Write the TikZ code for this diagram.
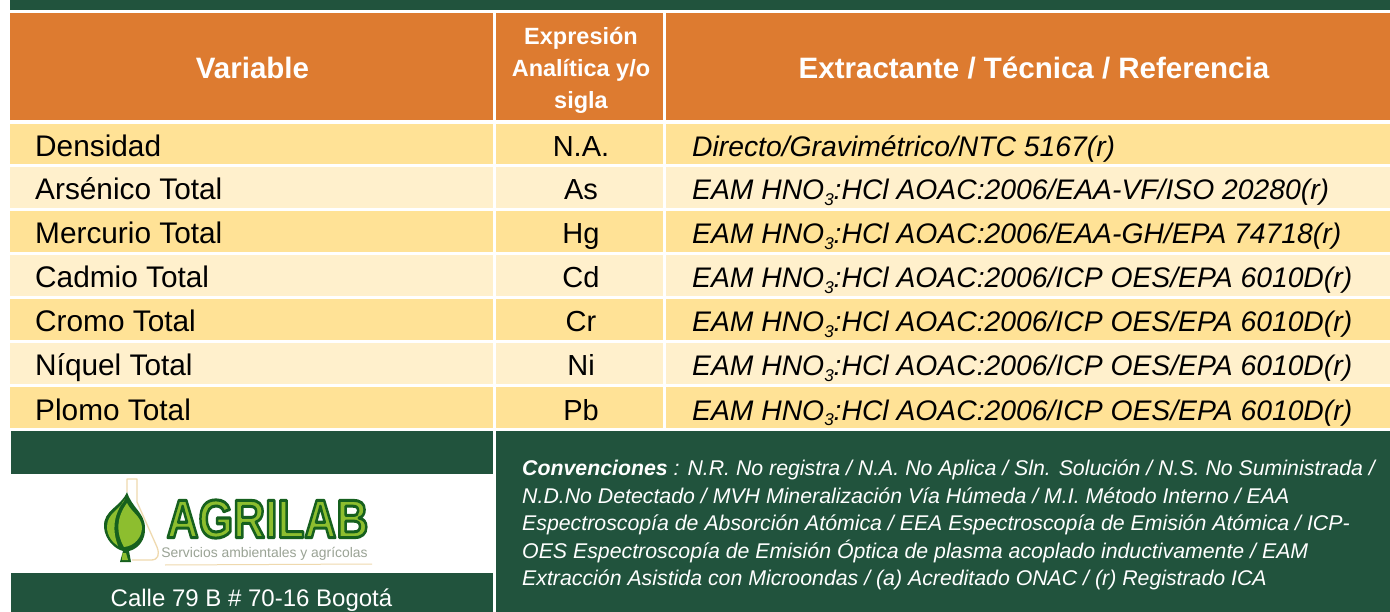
\documentclass[tikz,border=0pt]{standalone}
\usepackage{fontspec}
\setmainfont{Liberation Sans}
\definecolor{dkgreen}{HTML}{21533D}
\definecolor{hdr}{HTML}{DD7B30}
\definecolor{rowa}{HTML}{FFE296}
\definecolor{rowb}{HTML}{FFF0CC}
\definecolor{leaf}{HTML}{8DBE2F}
\definecolor{leafdk}{HTML}{16601E}
\definecolor{flask}{HTML}{EFD9AE}
\definecolor{logotxt}{HTML}{9AA395}
\newcommand{\subthree}{\raisebox{-0.2em}{\fontsize{17}{17}\selectfont 3}}
\newcommand{\eam}[1]{EAM HNO\subthree:HCl AOAC:2006/#1}
\newcommand{\outl}{\special{pdf:code q 2 Tr 1 j 3 w 0.086 0.376 0.118 RG}}
\newcommand{\outlend}{\special{pdf:code Q}}
\tikzset{
  vartxt/.style={font=\fontsize{29.8}{29.8}\selectfont,text=black,anchor=base west,inner sep=0pt},
  symtxt/.style={font=\fontsize{29}{29}\selectfont,text=black,anchor=base,inner sep=0pt},
  exttxt/.style={font=\fontsize{28.3}{28.3}\selectfont\itshape,text=black,anchor=base west,inner sep=0pt},
  hdrtxt/.style={font=\bfseries\fontsize{29.5}{29.5}\selectfont,text=white,anchor=base,inner sep=0pt},
}
\begin{document}
\begin{tikzpicture}[x=1pt,y=-1pt]
\useasboundingbox (0,0) rectangle (1390,612);
\fill[white] (0,0) rectangle (1390,612);
\fill[dkgreen] (10,0) rectangle (1390,10);
% header
\fill[hdr] (10,13) rectangle (493,120);
\fill[hdr] (496,13) rectangle (663,120);
\fill[hdr] (666,13) rectangle (1390,120);
\node[hdrtxt] (hvar) at (252.5,78.5) {Variable};
\node[font=\bfseries\fontsize{23.5}{32}\selectfont,text=white,align=center,inner sep=0pt] (hexp) at (581,70) {Expresión\\Analítica y/o\\sigla};
\node[hdrtxt] (hext) at (1034,78.5) {Extractante / Técnica / Referencia};
% rows
\foreach \ya/\yb/\c in {124/164/rowa,167/208/rowb,211/252/rowa,255/296/rowb,299/340/rowa,343/384/rowb,387/428/rowa}{
  \fill[\c] (10,\ya) rectangle (493,\yb);
  \fill[\c] (496,\ya) rectangle (663,\yb);
  \fill[\c] (666,\ya) rectangle (1390,\yb);
}
\node[vartxt] (v1) at (35,157) {Densidad};
\node[vartxt] (v2) at (35,200) {Arsénico Total};
\node[vartxt] (v3) at (35,244) {Mercurio Total};
\node[vartxt] (v4) at (35,288) {Cadmio Total};
\node[vartxt] (v5) at (35,332) {Cromo Total};
\node[vartxt] (v6) at (35,376) {Níquel Total};
\node[vartxt] (v7) at (35,420) {Plomo Total};
\node[symtxt] (s1) at (581,157) {N.A.};
\node[symtxt] (s2) at (581,200) {As};
\node[symtxt] (s3) at (581,244) {Hg};
\node[symtxt] (s4) at (581,288) {Cd};
\node[symtxt] (s5) at (581,332) {Cr};
\node[symtxt] (s6) at (581,376) {Ni};
\node[symtxt] (s7) at (581,420) {Pb};
\node[exttxt] (e1) at (692,157) {Directo/Gravimétrico/NTC 5167(r)};
\node[exttxt] (e2) at (692,200) {\eam{EAA-VF/ISO 20280(r)}};
\node[exttxt] (e3) at (692,244) {\eam{EAA-GH/EPA 74718(r)}};
\node[exttxt] (e4) at (692,288) {\eam{ICP OES/EPA 6010D(r)}};
\node[exttxt] (e5) at (692,332) {\eam{ICP OES/EPA 6010D(r)}};
\node[exttxt] (e6) at (692,376) {\eam{ICP OES/EPA 6010D(r)}};
\node[exttxt] (e7) at (692,420) {\eam{ICP OES/EPA 6010D(r)}};
% bottom panels
\fill[dkgreen] (11,431) rectangle (493,612);
\fill[dkgreen] (496,431) rectangle (1390,612);
\fill[white] (11,474) rectangle (493,573);
\node[font=\fontsize{24}{24}\selectfont,text=white,anchor=base,inner sep=0pt] (addr) at (251.5,606) {Calle 79 B \# 70-16 Bogotá};
\node[font=\fontsize{21.3}{27.4}\selectfont\itshape,text=white,anchor=north west,inner sep=0pt,align=left] (conv) at (522,460) {\textbf{Convenciones} : N.R. No registra / N.A. No Aplica / Sln. Solución / N.S. No Suministrada /\\
N.D.No Detectado / MVH Mineralización Vía Húmeda / M.I. Método Interno / EAA\\
Espectroscopía de Absorción Atómica / EEA Espectroscopía de Emisión Atómica / ICP-\\
OES Espectroscopía de Emisión Óptica de plasma acoplado inductivamente / EAM\\
Extracción Asistida con Microondas / (a) Acreditado ONAC / (r) Registrado ICA};
% logo
\draw[flask,line width=1.3pt,line join=round] (127,492) -- (127,479) -- (137,479) -- (137,502) -- (157,547) .. controls (160,555) and (158,560) .. (151,560) -- (132,560);
\draw[flask,line width=1pt] (165,565) -- (372,564);
\fill[leafdk] (127,492) .. controls (121,507) and (103,510) .. (104,527) .. controls (105,540) and (115,549) .. (123,551) -- (120,562) -- (131,562) -- (129,551) .. controls (138,549) and (146,540) .. (145,527) .. controls (144,512) and (132,508) .. (127,492) -- cycle;
\fill[leaf] (125,499) .. controls (120,510) and (107,513) .. (107,527) .. controls (107,536) and (113,543) .. (118,546) .. controls (112,530) and (113,515) .. (125,499) -- cycle;
\fill[leaf] (127,503) .. controls (116,518) and (116,533) .. (124,547) .. controls (134,546) and (142,538) .. (142,527) .. controls (141,516) and (132,513) .. (127,503) -- cycle;
\fill[leaf] (122.5,553) -- (126,553) -- (128,560) -- (122,560) -- cycle;
\node[font=\bfseries\fontsize{54}{54}\selectfont,text=leaf,inner sep=0pt,xscale=0.82] (brand) at (267.5,519) {\outl AGRILAB\outlend};
\node[font=\fontsize{13.9}{13.9}\selectfont,text=logotxt,inner sep=0pt] (tag) at (264.5,554) {Servicios ambientales y agrícolas};
\end{tikzpicture}
\end{document}
